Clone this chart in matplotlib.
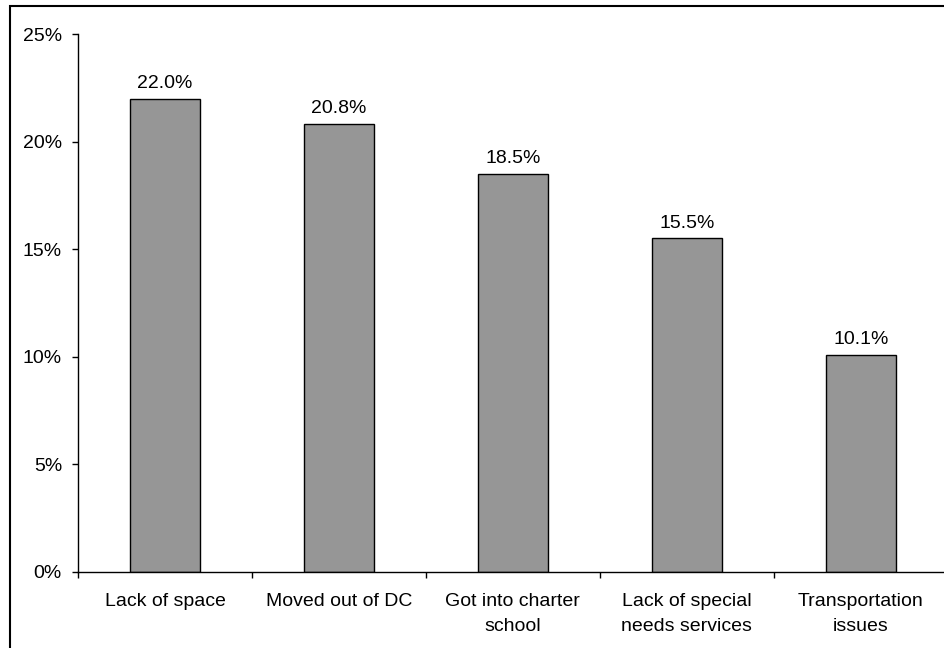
import matplotlib.pyplot as plt
from matplotlib.patches import Rectangle
from matplotlib.ticker import PercentFormatter

plt.rcParams['font.family'] = ['Liberation Sans', 'DejaVu Sans']

categories = ['Lack of space', 'Moved out of DC', 'Got into charter\nschool',
              'Lack of special\nneeds services', 'Transportation\nissues']
values = [22.0, 20.8, 18.5, 15.5, 10.1]
y_ticks = [0, 5, 10, 15, 20, 25]

fig = plt.figure(figsize=(9.45, 6.48), dpi=100)
ax = fig.add_axes([0.0825, 0.1173, 0.9205, 0.8302])

x = range(len(categories))
bars = ax.bar(x, values, width=0.4, color='#969696', edgecolor='black', linewidth=1)

for b, v in zip(bars, values):
    ax.annotate(f'{v:.1f}%', (b.get_x() + b.get_width() / 2, v),
                xytext=(0, 5), textcoords='offset points',
                ha='center', va='bottom', fontsize=14)

ax.set_xlim(-0.5, len(categories) - 0.5)
ax.set_ylim(0, 25)
ax.set_yticks(y_ticks)
ax.yaxis.set_major_formatter(PercentFormatter(decimals=0))
ax.set_xticks(list(x))
ax.set_xticklabels(categories, fontsize=14, linespacing=1.6)
ax.set_xticks([i - 0.5 for i in range(len(categories) + 1)], minor=True)
ax.tick_params(axis='x', which='major', length=0, pad=15)
ax.tick_params(axis='x', which='minor', length=4.5, width=1, direction='out')
ax.tick_params(axis='y', length=4.5, width=1, direction='out', labelsize=14, pad=7)

for s in ['top', 'right']:
    ax.spines[s].set_visible(False)
for s in ['left', 'bottom']:
    ax.spines[s].set_linewidth(1)
ax.spines['bottom'].set_clip_on(False)

# outer frame, right and bottom edges fall off the picture
fig.patches.append(Rectangle((0.0106, -0.1), 1.5, 1.09, transform=fig.transFigure,
                             fill=False, edgecolor='black', linewidth=1.5, zorder=10))

fig.savefig('out.png', dpi=100)
